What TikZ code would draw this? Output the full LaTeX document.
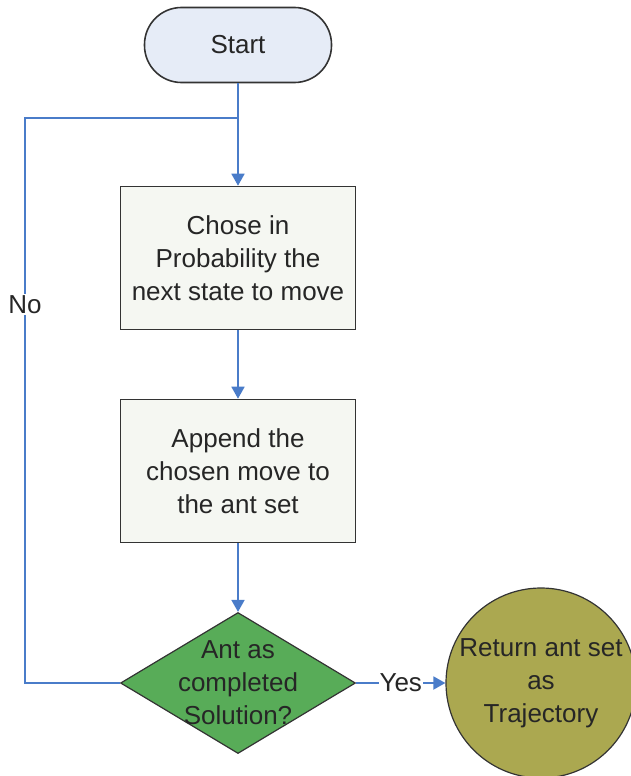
\documentclass[tikz,border=0pt]{standalone}
\usepackage{fontspec}
\setmainfont{Liberation Sans}
\usetikzlibrary{shapes.geometric,arrows.meta}
\definecolor{flowblue}{HTML}{4A7CC9}
\definecolor{startfill}{HTML}{E6ECF7}
\definecolor{boxfill}{HTML}{F5F7F2}
\definecolor{decfill}{HTML}{58AC58}
\definecolor{endfill}{HTML}{ABA850}
\begin{document}
\begin{tikzpicture}[x=1pt,y=-1pt,
  every node/.style={font=\fontsize{26}{33}\selectfont, text=black!85, align=center},
  terminal/.style={draw=black!80, line width=1.6pt, fill=startfill, rounded corners=37pt,
    minimum width=187pt, minimum height=75pt, inner sep=0pt},
  process/.style={draw=black!80, line width=1.6pt, fill=boxfill,
    minimum width=235pt, minimum height=143pt, inner sep=0pt},
  decision/.style={draw=black!80, line width=1.2pt, fill=decfill, diamond, aspect=1.67,
    minimum width=235pt, minimum height=141pt, inner sep=0pt},
  result/.style={draw=black!80, line width=1.2pt, fill=endfill, circle,
    minimum size=190pt, inner sep=0pt},
  flow/.style={draw=flowblue, line width=1.8pt, -{Triangle[length=12pt,width=13pt]}},
  plainflow/.style={draw=flowblue, line width=1.8pt}
]
\useasboundingbox (0,0) rectangle (630,776);

\node[terminal] (start) at (238,45) {Start};
\node[process] (choose) at (238,258) {Chose in\\Probability the\\next state to move};
\node[process] (append) at (238,471) {Append the\\chosen move to\\the ant set};
\node[decision, label={[align=center]center:Ant as\\completed\\Solution?}] (done) at (238,683) {};
\node[result, label={[align=center]center:Return ant set\\as\\Trajectory}] (ret) at (541,683) {};

\coordinate (join) at (238,118);
\coordinate (loopbot) at (25,683);
\coordinate (looptop) at (25,118);

\draw[flow] (start.south) -- (choose.north);
\draw[flow] (choose.south) -- (append.north);
\draw[flow] (append.south) -- (done.north);
\draw[plainflow] (done.west) -- (loopbot) -- node[pos=0.67, fill=white, inner sep=1pt] {No} (looptop) -- (join);
\draw[flow] (done.east) -- node[fill=white, inner sep=1pt, pos=0.5] {Yes} (ret.west);
\end{tikzpicture}
\end{document}
